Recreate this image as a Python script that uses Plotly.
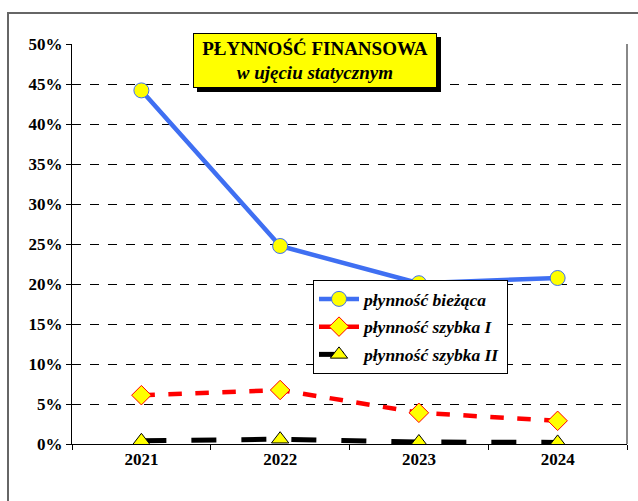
import plotly.graph_objects as go

years = ["2021", "2022", "2023", "2024"]
biezaca = [0.442, 0.2475, 0.201, 0.2075]
szybka_1 = [0.061, 0.0675, 0.039, 0.029]
szybka_2 = [0.004, 0.006, 0.0025, 0.002]
y_ticks = [0, 0.05, 0.10, 0.15, 0.20, 0.25, 0.30, 0.35, 0.40, 0.45, 0.50]

FONT = "Liberation Serif"

fig = go.Figure()
fig.add_trace(go.Scatter(
    x=years, y=biezaca, mode="lines+markers", name="płynność bieżąca",
    legendgroup="a",
    line=dict(color="#3f6ff2", width=4.5),
    marker=dict(symbol="circle", size=15, color="#ffff00", line=dict(color="#3f6ff2", width=1))))
fig.add_trace(go.Scatter(
    x=years, y=szybka_1, mode="lines+markers", name="płynność szybka I",
    legendgroup="b",
    line=dict(color="#ff0000", width=4.5, dash="dash"),
    marker=dict(symbol="diamond", size=15, color="#ffff00", line=dict(color="#ff0000", width=1))))
fig.add_trace(go.Scatter(
    x=years, y=szybka_2, mode="lines+markers", name="płynność szybka II",
    legendgroup="c",
    line=dict(color="#000000", width=5, dash="longdash"),
    marker=dict(symbol="triangle-up", size=15, color="#ffff00", line=dict(color="#000000", width=1))))

L, R, T, B = 72, 11, 44, 57
W, H = 638, 501
pw, ph = W - L - R, H - T - B

def px(x):
    return (x - L) / pw

def py(y):
    return (H - B - y) / ph

fig.update_layout(
    width=W, height=H,
    margin=dict(l=L, r=R, t=T, b=B, autoexpand=False),
    paper_bgcolor="white", plot_bgcolor="white",
    font=dict(family=FONT, color="black"),
    showlegend=True,
    legend=dict(
        x=px(313), y=py(280), xanchor="left", yanchor="top",
        bgcolor="white", bordercolor="black", borderwidth=1,
        font=dict(family=FONT, size=17.5, color="black", weight="bold", style="italic"),
        tracegroupgap=2, itemwidth=40,
    ),
    xaxis=dict(
        type="category", range=[-0.5, 3.5], automargin=False,
        showline=True, linecolor="black", linewidth=1,
        ticks="outside", tickson="boundaries", ticklen=5, tickcolor="black",
        showgrid=False,
        tickfont=dict(family=FONT, size=17, color="black", weight="bold"),
    ),
    yaxis=dict(
        range=[0, 0.5], tickvals=y_ticks, tickformat=".0%", automargin=False,
        showline=True, linecolor="black", linewidth=1,
        ticks="outside", ticklen=5, tickcolor="black",
        showgrid=True, gridcolor="black", gridwidth=1, griddash="dash",
        zeroline=False,
        tickfont=dict(family=FONT, size=17, color="black", weight="bold"),
    ),
    shapes=[
        dict(type="line", xref="paper", yref="paper", x0=1, x1=1, y0=0, y1=1,
             line=dict(color="#888888", width=2)),
        dict(type="rect", xref="paper", yref="paper",
             x0=px(8), x1=px(645), y0=py(505), y1=py(13),
             line=dict(color="#666666", width=2)),
        dict(type="rect", xref="paper", yref="paper",
             x0=px(197), x1=px(441), y0=py(92), y1=py(37),
             fillcolor="black", line=dict(width=0), layer="above"),
    ],
    annotations=[
        dict(xref="paper", yref="paper", x=px(315), y=py(60.5),
             xanchor="center", yanchor="middle", showarrow=False,
             text="PŁYNNOŚĆ FINANSOWA<br><i>w ujęciu statycznym</i>",
             font=dict(family=FONT, size=19, color="black", weight="bold"),
             bgcolor="#ffff00", bordercolor="black", borderwidth=1,
             width=242, height=53, borderpad=0),
    ],
)

fig.write_html("out.html", config={"displayModeBar": False},
               post_script="document.body.style.margin='0';")
